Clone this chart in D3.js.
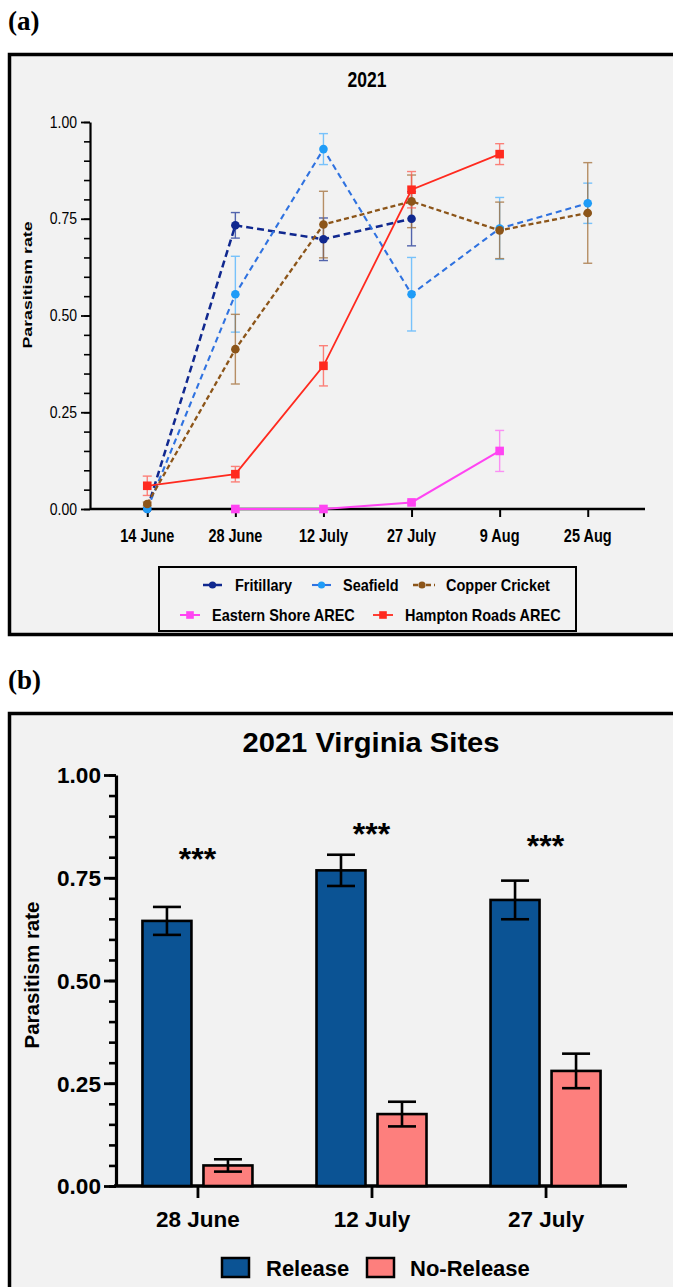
<!DOCTYPE html>
<html>
<head>
<meta charset="utf-8">
<script src="https://cdn.jsdelivr.net/npm/d3@7"></script>
<style>
  body { margin: 0; background: #fff; }
  text { font-family: "Liberation Sans", Arial, sans-serif; }
</style>
</head>
<body>
<div id="chart"></div>
<script>
// ---- panel (a) data: 2021 parasitism by site ----
const datesA = ["14 June", "28 June", "12 July", "27 July", "9 Aug", "25 Aug"];
const sitesA = ["Fritillary", "Seafield", "Copper Cricket", "Eastern Shore AREC", "Hampton Roads AREC"];
const fritillary = [0.0, 0.733, 0.697, 0.75, null, null];
const fritillaryErr = [0.0, 0.033, 0.055, 0.07, null, null];
const seafield = [0.0, 0.555, 0.93, 0.555, 0.725, 0.79];
const seafieldErr = [0.0, 0.098, 0.04, 0.095, 0.08, 0.052];
const copperCricket = [0.013, 0.413, 0.735, 0.795, 0.72, 0.765];
const copperCricketErr = [0.005, 0.09, 0.086, 0.068, 0.073, 0.13];
const easternShore = [null, 0.0, 0.0, 0.017, 0.15, null];
const easternShoreErr = [null, 0.0, 0.0, 0.004, 0.053, null];
const hamptonRoads = [0.06, 0.09, 0.37, 0.825, 0.917, null];
const hamptonRoadsErr = [0.025, 0.02, 0.052, 0.047, 0.027, null];
const ticksA = [0, 0.25, 0.5, 0.75, 1.0];

// ---- panel (b) data: release vs no-release ----
const datesB = ["28 June", "12 July", "27 July"];
const groupsB = ["Release", "No-Release"];
const release = [0.645, 0.768, 0.696];
const releaseErr = [0.034, 0.038, 0.047];
const noRelease = [0.05, 0.175, 0.28];
const noReleaseErr = [0.015, 0.03, 0.042];
const sigLabels = ["***", "***", "***"];
const sigY = [0.81, 0.871, 0.842];
const ticksB = [0, 0.25, 0.5, 0.75, 1.0];

const W = 673, H = 1287;
const svg = d3.select("#chart").append("svg").attr("width", W).attr("height", H);

// stretched text helper (the figure's text is taller than it is wide)
function sText(g, x, y, str, size, weight, sy, anchor) {
  return g.append("text")
    .attr("transform", `translate(${x},${y}) scale(1,${sy})`)
    .attr("font-size", size)
    .attr("font-weight", weight)
    .attr("text-anchor", anchor || "middle")
    .attr("fill", "#000")
    .text(str);
}

// ================= panel (a) =================
svg.append("text").attr("x", 8).attr("y", 30)
  .style("font-family", "Liberation Serif, serif")
  .attr("font-size", 27).attr("font-weight", "bold").text("(a)");

svg.append("rect").attr("x", 9.5).attr("y", 54.5).attr("width", 700).attr("height", 580)
  .attr("fill", "#f2f2f2").attr("stroke", "#000").attr("stroke-width", 3.5);

const gA = svg.append("g");
const xA = d3.scalePoint().domain(datesA).range([90, 645]).padding(0.65);
const yA = d3.scaleLinear().domain([0, 1]).range([509, 122]);

sText(gA, 367, 87, "2021", 17.5, "bold", 1.22);

// y axis (minor then major)
gA.append("g").attr("transform", "translate(90,0)")
  .call(d3.axisLeft(yA).tickValues(d3.range(0, 1.0001, 0.05)).tickSize(6).tickFormat(""))
  .call(g => g.select(".domain").remove())
  .call(g => g.selectAll("line").attr("stroke", "#000").attr("stroke-width", 1.6));
const yAxA = gA.append("g").attr("transform", "translate(90,0)")
  .call(d3.axisLeft(yA).tickValues(ticksA).tickSize(9).tickFormat(d3.format(".2f")).tickSizeOuter(0));
yAxA.select(".domain").attr("stroke-width", 2.2);
yAxA.selectAll("line").attr("stroke-width", 1.8);
yAxA.selectAll("text").remove();
ticksA.forEach(t => sText(gA, 77, yA(t) + 5.5, d3.format(".2f")(t), 14, "normal", 1.15, "end"));

// x axis
const xAxA = gA.append("g").attr("transform", "translate(0,509)")
  .call(d3.axisBottom(xA).tickSize(8).tickSizeOuter(0));
xAxA.select(".domain").attr("d", "M90,0H645").attr("stroke-width", 2.4);
xAxA.selectAll("line").attr("stroke-width", 2);
xAxA.selectAll("text").remove();
datesA.forEach(d => sText(gA, xA(d), 542, d, 14.5, "bold", 1.22));

// y label
gA.append("text").attr("transform", "translate(32,285) rotate(-90)")
  .attr("text-anchor", "middle").attr("font-size", 13.5).attr("font-weight", "bold")
  .attr("textLength", 127).attr("lengthAdjust", "spacingAndGlyphs")
  .text("Parasitism rate");

const seriesA = [
  { name: sitesA[0], v: fritillary, e: fritillaryErr, line: "#10288f", mark: "#10288f", err: "#1d3596", dash: "7,4", lw: 2.5, shape: "circle" },
  { name: sitesA[1], v: seafield, e: seafieldErr, line: "#2f72e0", mark: "#1f9cf7", err: "#4fb2ff", dash: "6,4", lw: 2.1, shape: "circle" },
  { name: sitesA[2], v: copperCricket, e: copperCricketErr, line: "#8c5519", mark: "#8c5519", err: "#a26d36", dash: "5,3", lw: 2.3, shape: "circle" },
  { name: sitesA[3], v: easternShore, e: easternShoreErr, line: "#ff44f2", mark: "#ff44f2", err: "#ff6ef5", dash: null, lw: 2, shape: "square" },
  { name: sitesA[4], v: hamptonRoads, e: hamptonRoadsErr, line: "#ff2a1f", mark: "#ff2a1f", err: "#ff5a50", dash: null, lw: 1.8, shape: "square" }
];

// error bars
seriesA.forEach(s => {
  const pts = datesA.map((d, i) => ({ d, v: s.v[i], e: s.e[i] })).filter(p => p.v !== null && p.e > 0);
  const g = gA.append("g").attr("stroke", s.err).attr("stroke-width", 1.4).attr("opacity", 0.75);
  pts.forEach(p => {
    const x = xA(p.d);
    g.append("line").attr("x1", x).attr("x2", x).attr("y1", yA(p.v - p.e)).attr("y2", yA(p.v + p.e));
    g.append("line").attr("x1", x - 4.5).attr("x2", x + 4.5).attr("y1", yA(p.v - p.e)).attr("y2", yA(p.v - p.e));
    g.append("line").attr("x1", x - 4.5).attr("x2", x + 4.5).attr("y1", yA(p.v + p.e)).attr("y2", yA(p.v + p.e));
  });
});

// lines + markers
const lineA = d3.line().x(p => xA(p.d)).y(p => yA(p.v));
[0, 1, 2, 3, 4].forEach(k => {
  const s = seriesA[k];
  const valid = datesA.map((d, i) => ({ d, v: s.v[i] })).filter(p => p.v !== null);
  gA.append("path").datum(valid).attr("d", lineA)
    .attr("fill", "none").attr("stroke", s.line).attr("stroke-width", s.lw)
    .attr("stroke-dasharray", s.dash);
  if (s.shape === "circle") {
    gA.selectAll(null).data(valid).join("circle")
      .attr("cx", p => xA(p.d)).attr("cy", p => yA(p.v)).attr("r", 4.3).attr("fill", s.mark);
  } else {
    gA.selectAll(null).data(valid).join("rect")
      .attr("x", p => xA(p.d) - 4.3).attr("y", p => yA(p.v) - 4.3)
      .attr("width", 8.6).attr("height", 8.6).attr("fill", s.mark);
  }
});

// legend (a)
gA.append("rect").attr("x", 159).attr("y", 567).attr("width", 417).attr("height", 64)
  .attr("fill", "none").attr("stroke", "#000").attr("stroke-width", 2);
const legA = [
  { k: 0, x: 203, y: 585, w: 19, tx: 235 },
  { k: 1, x: 312, y: 585, w: 19, tx: 343 },
  { k: 2, x: 413, y: 585, w: 22, tx: 446 },
  { k: 3, x: 180, y: 615, w: 20, tx: 212 },
  { k: 4, x: 373, y: 615, w: 20, tx: 405 }
];
legA.forEach(l => {
  const s = seriesA[l.k];
  gA.append("line").attr("x1", l.x).attr("x2", l.x + l.w).attr("y1", l.y).attr("y2", l.y)
    .attr("stroke", s.line).attr("stroke-width", s.lw)
    .attr("stroke-dasharray", l.k === 2 ? "5,3,2,3" : null);
  const cx = l.k === 2 ? l.x + 9 : l.x + l.w / 2;
  if (s.shape === "circle") {
    gA.append("circle").attr("cx", cx).attr("cy", l.y).attr("r", 3.6).attr("fill", s.mark);
  } else {
    gA.append("rect").attr("x", cx - 3.8).attr("y", l.y - 3.8).attr("width", 7.6).attr("height", 7.6).attr("fill", s.mark);
  }
  sText(gA, l.tx, l.y + 5.5, s.name, 14.5, "bold", 1.18, "start");
});

// ================= panel (b) =================
svg.append("text").attr("x", 8).attr("y", 689)
  .style("font-family", "Liberation Serif, serif")
  .attr("font-size", 27).attr("font-weight", "bold").text("(b)");

svg.append("rect").attr("x", 9.5).attr("y", 713.5).attr("width", 700).attr("height", 620)
  .attr("fill", "#f2f2f2").attr("stroke", "#000").attr("stroke-width", 3.5);

const gB = svg.append("g");
const xB = d3.scalePoint().domain(datesB).range([116, 627]).padding(0.468);
const xInner = d3.scaleBand().domain(groupsB).range([-55, 55]).paddingInner(0.197);
const yB = d3.scaleLinear().domain([0, 1]).range([1186, 775]);
const colB = { "Release": "#0b5394", "No-Release": "#fd7f7d" };

gB.append("text").attr("x", 371).attr("y", 752).attr("text-anchor", "middle")
  .attr("font-size", 28.5).attr("font-weight", "bold")
  .attr("textLength", 257).attr("lengthAdjust", "spacingAndGlyphs")
  .text("2021 Virginia Sites");

// axes
gB.append("g").attr("transform", "translate(116,0)")
  .call(d3.axisLeft(yB).tickValues(d3.range(0, 1.0001, 0.05)).tickSize(7).tickFormat(""))
  .call(g => g.select(".domain").remove())
  .call(g => g.selectAll("line").attr("stroke", "#000").attr("stroke-width", 2.6));
const yAxB = gB.append("g").attr("transform", "translate(116,0)")
  .call(d3.axisLeft(yB).tickValues(ticksB).tickSize(12).tickPadding(3).tickFormat(d3.format(".2f")).tickSizeOuter(0));
yAxB.select(".domain").attr("stroke-width", 3.2);
yAxB.selectAll("line").attr("stroke-width", 2.8);
yAxB.selectAll("text").attr("font-size", 21.5).attr("font-weight", "bold").attr("font-family", "Liberation Sans, Arial, sans-serif").attr("dy", "0.36em")
  .attr("textLength", 44).attr("lengthAdjust", "spacingAndGlyphs");

const xAxB = gB.append("g").attr("transform", "translate(0,1186)")
  .call(d3.axisBottom(xB).tickSize(12).tickPadding(8).tickSizeOuter(0));
xAxB.select(".domain").attr("d", "M114,0H627").attr("stroke-width", 3.4);
xAxB.selectAll("line").attr("stroke-width", 2.8);
xAxB.selectAll("text").attr("font-size", 22.5).attr("font-weight", "bold").attr("font-family", "Liberation Sans, Arial, sans-serif").attr("dy", "0.95em");

gB.append("text").attr("transform", "translate(39,975) rotate(-90)")
  .attr("text-anchor", "middle").attr("font-size", 20.5).attr("font-weight", "bold")
  .text("Parasitism rate");

// bars
const rowsB = datesB.flatMap((d, i) => [
  { d, g: "Release", v: release[i], e: releaseErr[i] },
  { d, g: "No-Release", v: noRelease[i], e: noReleaseErr[i] }
]);
gB.selectAll(".bar").data(rowsB).join("rect")
  .attr("x", r => xB(r.d) + xInner(r.g)).attr("width", xInner.bandwidth())
  .attr("y", r => yB(r.v)).attr("height", r => yB(0) - yB(r.v))
  .attr("fill", r => colB[r.g]).attr("stroke", "#000").attr("stroke-width", 2.6);

const errG = gB.append("g").attr("stroke", "#000").attr("stroke-width", 2.6);
rowsB.forEach(r => {
  const cx = xB(r.d) + xInner(r.g) + xInner.bandwidth() / 2;
  errG.append("line").attr("x1", cx).attr("x2", cx).attr("y1", yB(r.v - r.e)).attr("y2", yB(r.v + r.e));
  [r.v - r.e, r.v + r.e].forEach(v =>
    errG.append("line").attr("x1", cx - 14).attr("x2", cx + 14).attr("y1", yB(v)).attr("y2", yB(v)));
});

// significance
datesB.forEach((d, i) => {
  gB.append("text").attr("x", xB(d)).attr("y", yB(sigY[i]) + 17).attr("text-anchor", "middle")
    .attr("font-size", 32).attr("font-weight", "bold").text(sigLabels[i]);
});

// legend (b)
const legB = [{ g: "Release", x: 222, tx: 266 }, { g: "No-Release", x: 367, tx: 410 }];
legB.forEach(l => {
  gB.append("rect").attr("x", l.x).attr("y", 1258).attr("width", 27).attr("height", 19)
    .attr("fill", colB[l.g]).attr("stroke", "#000").attr("stroke-width", 2.5);
  gB.append("text").attr("x", l.tx).attr("y", 1276).attr("font-size", 22).attr("font-weight", "bold").text(l.g);
});
</script>
</body>
</html>
